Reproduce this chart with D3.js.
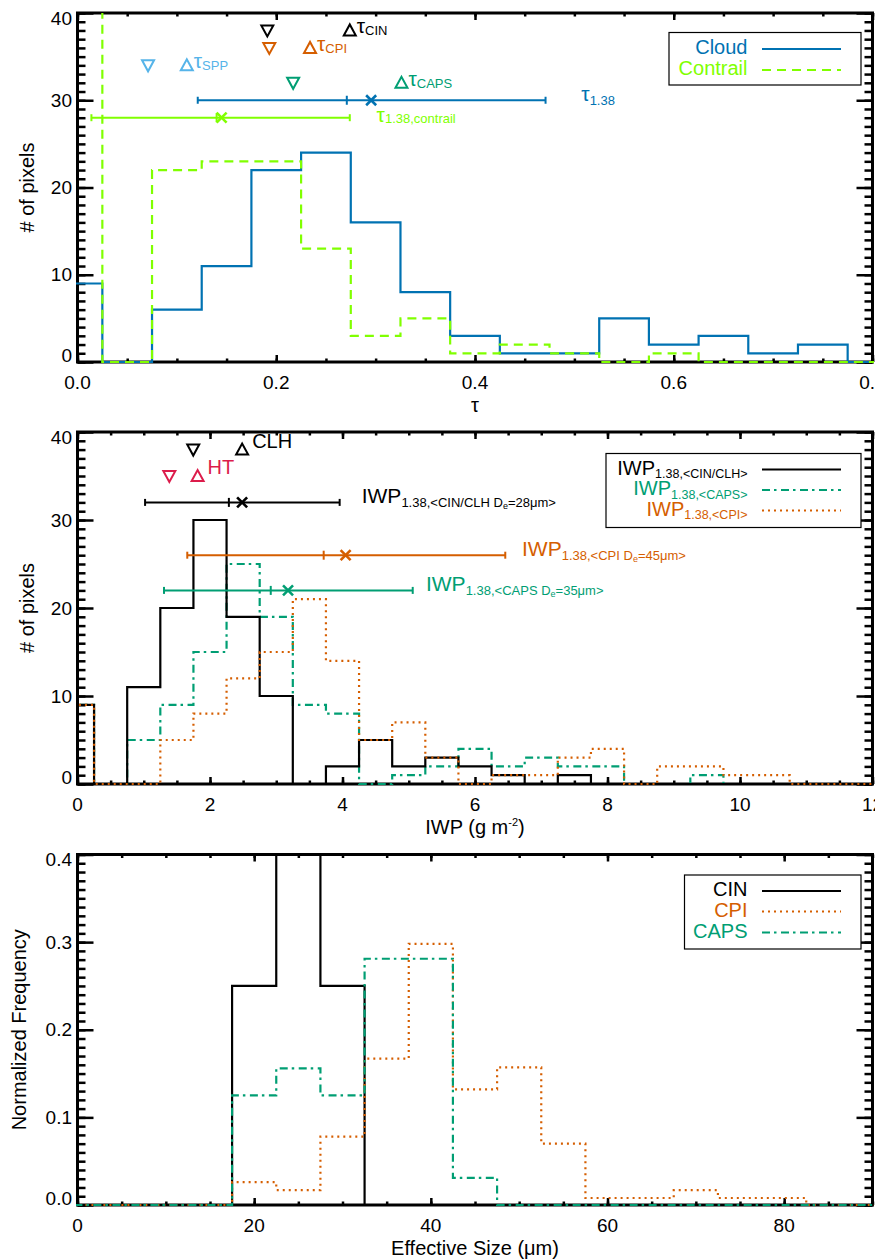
<!DOCTYPE html>
<html>
<head>
<meta charset="utf-8">
<script src="https://cdnjs.cloudflare.com/ajax/libs/d3/7.8.5/d3.min.js"></script>
<style>
	body { margin: 0; background: #fff; }
	svg text { font-family: "Liberation Sans", Arial, Helvetica, sans-serif; }
</style>
</head>
<body>
<svg id="chart" width="875" height="1259"></svg>
<script>

/*
	Three stacked histogram panels: optical depth, ice water path, effective size.
*/

const CLOUD_COLOR = '#0072B2';
const CONTRAIL_COLOR = '#80FF00';
const SPP_COLOR = '#56B4E9';
const CPI_COLOR = '#D55E00';
const CAPS_COLOR = '#009E73';
const HT_COLOR = '#DC1C4B';

// panel 1 : optical depth
const TAU_BINS = [0.00, 0.05, 0.10, 0.15, 0.20, 0.25, 0.30, 0.35, 0.40, 0.45, 0.50, 0.55, 0.60, 0.65, 0.70, 0.75, 0.80];
const CLOUD_COUNTS = [9, 0, 6, 11, 22, 24, 16, 8, 3, 1, 1, 5, 2, 3, 1, 2, 0];
const CONTRAIL_COUNTS = [45, 0, 22, 23, 23, 13, 3, 5, 1, 2, 1, 0, 1, 0, 0, 0, 0];
const TAU_TICKS = [0, 0.2, 0.4, 0.6, 0.8];

const TAU_MARKERS = [
	{ name: 'SPP', color: SPP_COLOR, down: 0.071, up: 0.110, y: 34 },
	{ name: 'CIN', color: '#000', down: 0.191, up: 0.274, y: 38 },
	{ name: 'CPI', color: CPI_COLOR, down: 0.193, up: 0.234, y: 36 },
	{ name: 'CAPS', color: CAPS_COLOR, down: 0.217, up: 0.326, y: 32 }
];

const TAU_ERRORBARS = [
	{ color: CLOUD_COLOR, y: 30, lo: 0.121, mid: 0.271, x: 0.2955, hi: 0.471, labelX: 0.507, labelY: 30,
		label: [['τ', 21, 0], ['1.38', 13, 4]] },
	{ color: CONTRAIL_COLOR, y: 28, lo: 0.014, mid: 0.140, x: 0.145, hi: 0.274, labelX: 0.301, labelY: 27.6,
		label: [['τ', 21, 0], ['1.38,contrail', 13, 1]] }
];

// panel 2 : ice water path
const IWP_BINS = [0, 0.5, 1, 1.5, 2, 2.5, 3, 3.5, 4, 4.5, 5, 5.5, 6, 6.5, 7, 7.5, 8, 8.5, 9, 9.5, 10, 10.5, 11, 11.5, 12];
const CIN_COUNTS = [9, 0, 11, 20, 30, 19, 10, 0, 2, 5, 2, 3, 2, 1, 0, 1, 0, 0, 0, 0, 0, 0, 0, 0, 0];
const CAPS_COUNTS = [9, 0, 5, 9, 15, 25, 19, 9, 8, 0, 1, 2, 4, 2, 3, 2, 2, 0, 0, 1, 0, 0, 0, 0, 0];
const CPI_COUNTS = [9, 0, 0, 5, 8, 12, 15, 21, 14, 5, 7, 3, 0, 1, 1, 3, 4, 0, 2, 2, 1, 1, 0, 0, 0];
const IWP_TICKS = [0, 2, 4, 6, 8, 10, 12];

const IWP_MARKERS = [
	{ name: 'CLH', color: '#000', down: 1.747, up: 2.485, y: 38 },
	{ name: 'HT', color: HT_COLOR, down: 1.386, up: 1.813, y: 35 }
];

const IWP_ERRORBARS = [
	{ color: '#000', y: 32, lo: 1.02, mid: 2.285, x: 2.485, hi: 3.957, labelX: 4.29, labelY: 32,
		label: [['IWP', 21, 0], ['1.38,<CIN/CLH D', 13, 4], ['e', 9, 6], ['=28μm>', 13, 4]] },
	{ color: CPI_COLOR, y: 26, lo: 1.657, mid: 3.716, x: 4.047, hi: 6.457, labelX: 6.71, labelY: 26,
		label: [['IWP', 21, 0], ['1.38,<CPI D', 13, 4], ['e', 9, 6], ['=45μm>', 13, 4]] },
	{ color: CAPS_COLOR, y: 22, lo: 1.306, mid: 2.917, x: 3.178, hi: 5.06, labelX: 5.26, labelY: 22,
		label: [['IWP', 21, 0], ['1.38,<CAPS D', 13, 4], ['e', 9, 6], ['=35μm>', 13, 4]] }
];

// panel 3 : effective size
const SIZE_BINS = [0, 5, 10, 15, 20, 25, 30, 35, 40, 45, 50, 55, 60, 65, 70, 75, 80, 85, 90];
const CIN_FREQ = [0, 0, 0, 0, 0.25, 0.5, 0.25, 0, 0, 0, 0, 0, 0, 0, 0, 0, 0, 0, 0];
const CPI_FREQ = [0, 0, 0, 0, 0.026, 0.017, 0.078, 0.167, 0.298, 0.132, 0.157, 0.070, 0.008, 0.008, 0.017, 0.008, 0.008, 0, 0];
const CAPS_FREQ = [0, 0, 0, 0, 0.125, 0.156, 0.125, 0.281, 0.281, 0.031, 0, 0, 0, 0, 0, 0, 0, 0, 0];
const SIZE_TICKS = [0, 20, 40, 60, 80];
const FREQ_TICKS = [0, 0.1, 0.2, 0.3, 0.4];
const COUNT_TICKS = [0, 10, 20, 30, 40];

const LEFT = 77.5;
const RIGHT = 872.5;
const DASHED = '9,6';
const DASHDOT = '8,4,2.5,4.5';
const DOTTED = '2,4';

function whenDocumentLoaded(action) {
	if (document.readyState === "loading") {
		document.addEventListener("DOMContentLoaded", action);
	} else {
		action();
	}
}

function makePanel(svg, cfg) {
	const x = d3.scaleLinear().domain(cfg.xDomain).range([LEFT, RIGHT]);
	const y = d3.scaleLinear().domain(cfg.yDomain).range([cfg.bottom, cfg.top]);
	const g = svg.append('g');
	g.append('clipPath').attr('id', 'clip-' + cfg.id)
		.append('rect')
		.attr('x', LEFT - 1.5).attr('y', cfg.top)
		.attr('width', RIGHT - LEFT + 3).attr('height', cfg.bottom - cfg.top + 1.5);
	// the frame goes under the histograms, as in the original plot
	const frame = g.append('g');
	const plot = g.append('g').attr('clip-path', 'url(#clip-' + cfg.id + ')');
	return { g: g, frame: frame, plot: plot, x: x, y: y, cfg: cfg };
}

function drawHist(p, bins, values, width, color, dash) {
	const pts = [];
	bins.forEach((c, i) => {
		pts.push([c - width / 2, values[i]]);
		pts.push([c + width / 2, values[i]]);
	});
	const line = d3.line().x(d => p.x(d[0])).y(d => p.y(d[1]));
	p.plot.append('path')
		.attr('d', line(pts))
		.attr('fill', 'none')
		.attr('stroke', color)
		.attr('stroke-width', 2.2)
		.attr('stroke-dasharray', dash)
		.attr('stroke-linejoin', 'miter');
}

function richText(g, x, y, color, parts, anchor) {
	const t = g.append('text')
		.attr('x', x).attr('y', y)
		.attr('fill', color)
		.attr('text-anchor', anchor || 'start');
	let shift = 0;
	parts.forEach(pt => {
		t.append('tspan').attr('font-size', pt[1]).attr('dy', pt[2] - shift).text(pt[0]);
		shift = pt[2];
	});
	return t;
}

function triangle(g, cx, cy, color, pointsUp) {
	const s = pointsUp ? 1 : -1;
	const path = d3.path();
	path.moveTo(cx - 6, cy + 5 * s);
	path.lineTo(cx + 6, cy + 5 * s);
	path.lineTo(cx, cy - 6 * s);
	path.closePath();
	g.append('path').attr('d', path.toString())
		.attr('fill', 'none').attr('stroke', color).attr('stroke-width', 2)
		.attr('stroke-linejoin', 'miter');
}

function drawMarkers(p, markers, labelFn) {
	markers.forEach(m => {
		const yy = p.y(m.y);
		triangle(p.g, p.x(m.down), yy, m.color, false);
		triangle(p.g, p.x(m.up), yy, m.color, true);
		labelFn(m, p.x(m.up), yy);
	});
}

function drawErrorBars(p, bars) {
	bars.forEach(e => {
		const yy = p.y(e.y);
		const g = p.g.append('g').attr('stroke', e.color).attr('stroke-width', 2);
		g.append('line').attr('x1', p.x(e.lo)).attr('x2', p.x(e.hi)).attr('y1', yy).attr('y2', yy);
		[e.lo, e.hi].forEach(v => {
			g.append('line').attr('x1', p.x(v)).attr('x2', p.x(v)).attr('y1', yy - 3.5).attr('y2', yy + 3.5);
		});
		g.append('line').attr('x1', p.x(e.mid)).attr('x2', p.x(e.mid)).attr('y1', yy - 4.5).attr('y2', yy + 4.5);
		const cx = p.x(e.x);
		g.append('line').attr('x1', cx - 5).attr('x2', cx + 5).attr('y1', yy - 5).attr('y2', yy + 5).attr('stroke-width', 2.6);
		g.append('line').attr('x1', cx - 5).attr('x2', cx + 5).attr('y1', yy + 5).attr('y2', yy - 5).attr('stroke-width', 2.6);
		richText(p.g, p.x(e.labelX), p.y(e.labelY) + 1, e.color, e.label);
	});
}

function addTicks(p, axis, transform, values, len) {
	p.frame.append('g')
		.attr('transform', transform)
		.call(axis.tickValues(values).tickSize(-len).tickFormat(''))
		.call(a => a.select('.domain').remove())
		.selectAll('line').attr('stroke', '#000').attr('stroke-width', 2.5);
}

function drawFrame(p, xMajor, xStep, yMajor, yStep, xFormat, yFormat) {
	const cfg = p.cfg;
	const xMinor = d3.range(cfg.xDomain[0], cfg.xDomain[1] + xStep / 2, xStep);
	const yMinor = d3.range(cfg.yDomain[0], cfg.yDomain[1] + yStep / 2, yStep);

	addTicks(p, d3.axisBottom(p.x), 'translate(0,' + cfg.bottom + ')', xMinor, 3.5);
	addTicks(p, d3.axisBottom(p.x), 'translate(0,' + cfg.bottom + ')', xMajor, 7);
	addTicks(p, d3.axisTop(p.x), 'translate(0,' + cfg.top + ')', xMinor, 3.5);
	addTicks(p, d3.axisTop(p.x), 'translate(0,' + cfg.top + ')', xMajor, 7);
	addTicks(p, d3.axisLeft(p.y), 'translate(' + LEFT + ',0)', yMinor, 8);
	addTicks(p, d3.axisLeft(p.y), 'translate(' + LEFT + ',0)', yMajor, 16);
	addTicks(p, d3.axisRight(p.y), 'translate(' + RIGHT + ',0)', yMinor, 8);
	addTicks(p, d3.axisRight(p.y), 'translate(' + RIGHT + ',0)', yMajor, 16);

	p.frame.append('rect')
		.attr('x', LEFT).attr('y', cfg.top)
		.attr('width', RIGHT - LEFT).attr('height', cfg.bottom - cfg.top)
		.attr('fill', 'none').attr('stroke', '#000').attr('stroke-width', 3);

	p.frame.selectAll('.xlab').data(xMajor).enter()
		.append('text')
		.attr('class', 'xlab')
		.attr('x', d => p.x(d))
		.attr('y', cfg.bottom + 27)
		.attr('text-anchor', 'middle')
		.attr('font-size', 19)
		.text(xFormat);

	// end labels are pulled inside the axis range, as in the original plot
	p.frame.selectAll('.ylab').data(yMajor).enter()
		.append('text')
		.attr('class', 'ylab')
		.attr('x', 72)
		.attr('y', d => Math.max(cfg.top + 5, Math.min(cfg.bottom - 7, p.y(d))))
		.attr('dy', '0.35em')
		.attr('text-anchor', 'end')
		.attr('font-size', 19)
		.text(yFormat);
}

function yTitle(p, x, text) {
	p.g.append('text')
		.attr('transform', 'translate(' + x + ',' + (p.cfg.top + p.cfg.bottom) / 2 + ') rotate(-90)')
		.attr('text-anchor', 'middle')
		.attr('dominant-baseline', 'central')
		.attr('font-size', 20)
		.text(text);
}

function legend(g, box, entries) {
	g.append('rect')
		.attr('x', box[0]).attr('y', box[1]).attr('width', box[2]).attr('height', box[3])
		.attr('fill', '#fff').attr('stroke', '#000').attr('stroke-width', 1.2);
	entries.forEach(e => {
		richText(g, 747.5, e.y, e.color, e.parts, 'end');
		g.append('line')
			.attr('x1', 762).attr('x2', 841).attr('y1', e.y - 5).attr('y2', e.y - 5)
			.attr('stroke', e.color).attr('stroke-width', 2.2)
			.attr('stroke-dasharray', e.dash);
	});
}

whenDocumentLoaded(() => {

	const svg = d3.select('#chart');

	// ---- panel 1
	const p1 = makePanel(svg, { id: 'tau', xDomain: [0, 0.8], yDomain: [0, 40], top: 13, bottom: 362 });
	drawFrame(p1, TAU_TICKS, 0.05, COUNT_TICKS, 1, d3.format('.1f'), d3.format('d'));
	drawHist(p1, TAU_BINS, CLOUD_COUNTS, 0.05, CLOUD_COLOR, null);
	drawHist(p1, TAU_BINS, CONTRAIL_COUNTS, 0.05, CONTRAIL_COLOR, DASHED);
	drawMarkers(p1, TAU_MARKERS, (m, x, y) => {
		richText(p1.g, x + 7, y + 3, m.color, [['τ', 21, 0], [m.name, 13, 2]]);
	});
	drawErrorBars(p1, TAU_ERRORBARS);
	legend(p1.g, [669, 32.5, 192, 52.5], [
		{ y: 54, color: CLOUD_COLOR, parts: [['Cloud', 20, 0]], dash: null },
		{ y: 75, color: CONTRAIL_COLOR, parts: [['Contrail', 20, 0]], dash: DASHED }
	]);
	yTitle(p1, 27, '# of pixels');
	p1.g.append('text').attr('x', p1.x(0.4)).attr('y', 412)
		.attr('text-anchor', 'middle').attr('font-size', 20).text('τ');

	// ---- panel 2
	const p2 = makePanel(svg, { id: 'iwp', xDomain: [0, 12], yDomain: [0, 40], top: 432, bottom: 784 });
	drawFrame(p2, IWP_TICKS, 0.5, COUNT_TICKS, 1, d3.format('d'), d3.format('d'));
	drawHist(p2, IWP_BINS, CAPS_COUNTS, 0.5, CAPS_COLOR, DASHDOT);
	drawHist(p2, IWP_BINS, CIN_COUNTS, 0.5, '#000', null);
	drawHist(p2, IWP_BINS, CPI_COUNTS, 0.5, CPI_COLOR, DOTTED);
	drawMarkers(p2, IWP_MARKERS, (m, x, y) => {
		richText(p2.g, x + 10, y - 2, m.color, [[m.name, 20, 0]]);
	});
	drawErrorBars(p2, IWP_ERRORBARS);
	legend(p2.g, [606, 453.5, 255, 74], [
		{ y: 474.5, color: '#000', parts: [['IWP', 20, 0], ['1.38,<CIN/CLH>', 12.5, 3.5]], dash: null },
		{ y: 495, color: CAPS_COLOR, parts: [['IWP', 20, 0], ['1.38,<CAPS>', 12.5, 3.5]], dash: DASHDOT },
		{ y: 515.5, color: CPI_COLOR, parts: [['IWP', 20, 0], ['1.38,<CPI>', 12.5, 3.5]], dash: DOTTED }
	]);
	yTitle(p2, 27, '# of pixels');
	richText(p2.g, p2.x(6), 834, '#000',
		[['IWP (g m', 20, 0], ['-2', 11, -8], [')', 20, 0]], 'middle');

	// ---- panel 3
	const p3 = makePanel(svg, { id: 'size', xDomain: [0, 90], yDomain: [0, 0.4], top: 854.5, bottom: 1205 });
	drawFrame(p3, SIZE_TICKS, 5, FREQ_TICKS, 0.01, d3.format('d'), d3.format('.1f'));
	drawHist(p3, SIZE_BINS, CIN_FREQ, 5, '#000', null);
	drawHist(p3, SIZE_BINS, CPI_FREQ, 5, CPI_COLOR, DOTTED);
	drawHist(p3, SIZE_BINS, CAPS_FREQ, 5, CAPS_COLOR, DASHDOT);
	legend(p3.g, [684.5, 875, 176.5, 74], [
		{ y: 896, color: '#000', parts: [['CIN', 20, 0]], dash: null },
		{ y: 916.5, color: CPI_COLOR, parts: [['CPI', 20, 0]], dash: DOTTED },
		{ y: 937.5, color: CAPS_COLOR, parts: [['CAPS', 20, 0]], dash: DASHDOT }
	]);
	yTitle(p3, 19, 'Normalized Frequency');
	p3.g.append('text').attr('x', p3.x(45)).attr('y', 1255)
		.attr('text-anchor', 'middle').attr('font-size', 20).text('Effective Size (μm)');
});

</script>
</body>
</html>
